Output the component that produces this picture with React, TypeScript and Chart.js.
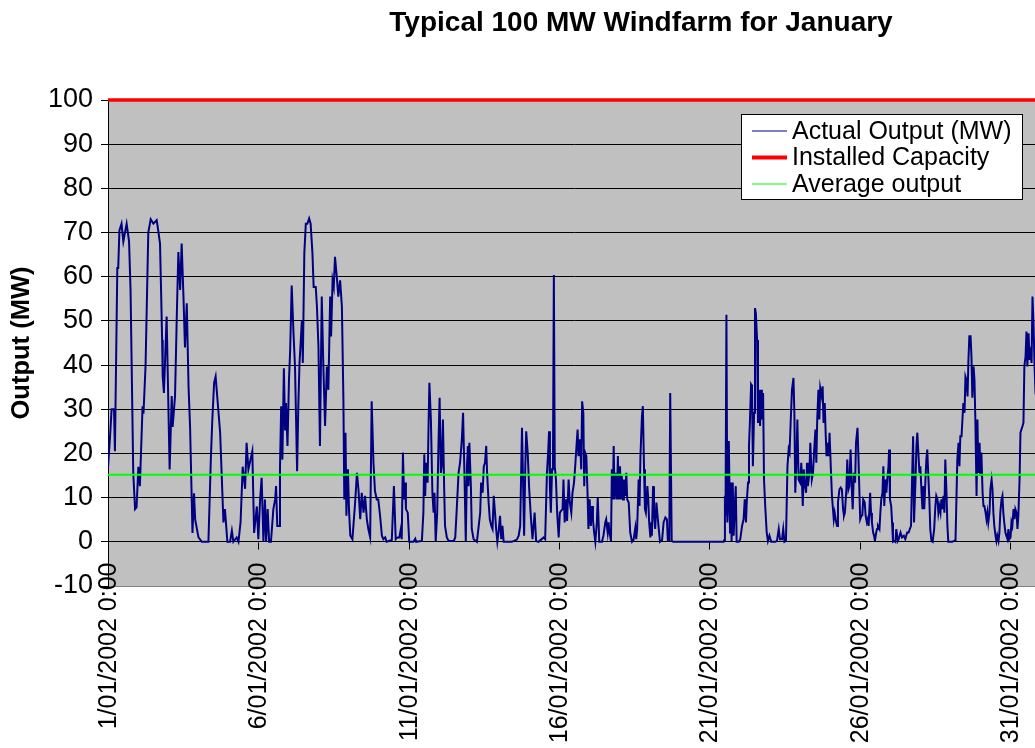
import React, { useEffect, useRef } from "react";
import { Chart, registerables } from "chart.js";

Chart.register(...registerables);

// ---- Data (x = days since 1/01/2002 0:00, y = MW) ----
const titleText = "Typical 100 MW Windfarm for January";
const yAxisTitle = "Output (MW)";
const tickDays = [0, 5, 10, 15, 20, 25, 30];
const tickLabels = [
  "1/01/2002 0:00",
  "6/01/2002 0:00",
  "11/01/2002 0:00",
  "16/01/2002 0:00",
  "21/01/2002 0:00",
  "26/01/2002 0:00",
  "31/01/2002 0:00",
];
const yMin = -10;
const yMax = 100;
const yStep = 10;
const periodDays = [0, 31];
const installedCapacityMW = 100;
const averageOutputMW = 15.2;
const seriesNames = ["Actual Output (MW)", "Installed Capacity", "Average output"];

const outputDays1to5: [number, number][] = [
  [0, 16.8], [0.07, 24], [0.12, 30], [0.2, 30], [0.23, 20.5], [0.31, 62], [0.34, 62], [0.38, 70.5], [0.45, 72], [0.51, 68],
  [0.62, 72], [0.7, 68], [0.75, 57], [0.84, 15.6], [0.9, 7.4], [0.95, 7.8], [1.01, 17], [1.06, 12.6], [1.15, 30.7], [1.18, 29],
  [1.25, 40], [1.34, 70], [1.42, 73], [1.51, 72], [1.62, 72.8], [1.67, 70.5], [1.73, 67.5], [1.77, 55.5], [1.8, 45.7], [1.82, 37.4],
  [1.86, 33.7], [1.95, 51], [2.05, 16.4], [2.12, 33], [2.15, 26], [2.23, 33], [2.29, 51.7], [2.34, 65.6], [2.4, 57], [2.45, 67.5],
  [2.51, 55.5], [2.56, 44], [2.62, 54], [2.68, 35], [2.73, 26], [2.81, 2], [2.86, 11], [2.9, 5], [3.01, 1], [3.12, 0],
  [3.34, 0], [3.42, 18.6], [3.47, 27.7], [3.53, 36], [3.58, 37.4], [3.73, 24.7], [3.84, 4.4], [3.89, 7.4], [3.97, 0], [4.06, 0],
  [4.12, 2.5], [4.17, 0], [4.28, 1], [4.34, 0], [4.41, 4.5], [4.48, 17], [4.56, 12], [4.61, 22.4], [4.67, 16.4], [4.8, 20.5],
  [4.86, 2], [4.95, 8], [5, 0.6],
];

const outputDays6to10: [number, number][] = [
  [5.06, 9.6], [5.11, 14.5], [5.17, 0], [5.22, 9.6], [5.26, 0], [5.31, 7.4], [5.36, 0], [5.42, 0], [5.5, 7.4], [5.56, 9.6],
  [5.59, 12.6], [5.63, 3.6], [5.69, 3.6], [5.72, 16.4], [5.76, 30.7], [5.8, 18.6], [5.85, 39.3], [5.89, 25.4], [5.92, 31.4], [5.97, 21.7],
  [6.02, 36.7], [6.06, 43.5], [6.11, 58], [6.17, 47.2], [6.22, 39.7], [6.29, 16], [6.33, 30.7], [6.37, 40.5], [6.45, 50.2], [6.48, 40.5],
  [6.53, 65.3], [6.58, 72], [6.63, 72], [6.69, 73.2], [6.74, 72], [6.8, 65.3], [6.84, 57.7], [6.91, 57.7], [6.95, 53.2], [7, 44.2],
  [7.05, 21.7], [7.11, 55.5], [7.16, 40.5], [7.22, 26.2], [7.28, 39.7], [7.33, 34.4], [7.39, 55.5], [7.42, 46.5], [7.47, 59.2], [7.51, 57.7],
  [7.55, 64.5], [7.61, 60], [7.66, 55.5], [7.72, 59.2], [7.78, 53.2], [7.83, 32.2], [7.86, 9.6], [7.9, 24.7], [7.93, 5.9], [7.98, 16.4],
  [8.02, 6.6], [8.06, 1.4], [8.13, 0.6], [8.22, 8.9], [8.28, 15.6], [8.33, 11.9], [8.39, 5.1], [8.44, 11.1], [8.5, 6.6], [8.55, 10.4],
  [8.61, 5.1], [8.66, 2.9], [8.72, 1], [8.77, 31.8], [8.83, 17.9], [8.88, 11.5], [8.94, 9.6], [8.99, 9.6], [9.05, 5.9], [9.11, 1.4],
  [9.16, 0.6], [9.22, 1], [9.27, 0], [9.44, 0.4], [9.51, 12.6], [9.57, 0.6], [9.63, 1], [9.69, 1], [9.74, 2.9], [9.77, 0.6],
  [9.81, 20.2], [9.85, 9.6], [9.88, 13.4], [9.91, 7.4], [9.97, 6.6], [10.02, 0],
];

const outputDays11to15: [number, number][] = [
  [10.16, 0], [10.22, 0.7], [10.25, 0], [10.44, 0.2], [10.49, 6.6], [10.52, 19.8], [10.55, 10.4], [10.58, 17.9], [10.63, 13.4], [10.66, 25.4],
  [10.69, 36], [10.74, 27.7], [10.79, 11.1], [10.83, 6.6], [10.86, 11.1], [10.9, 0], [10.95, 6.6], [10.99, 21.7], [11.03, 32.6], [11.07, 15.6],
  [11.1, 17.1], [11.14, 27.7], [11.18, 12.6], [11.21, 3.6], [11.27, 1], [11.33, 0.2], [11.5, 0.2], [11.55, 1], [11.6, 7.4], [11.66, 15.6],
  [11.71, 17.9], [11.77, 23.2], [11.81, 29.2], [11.86, 14.1], [11.9, 0], [11.94, 17.1], [11.97, 21.7], [11.99, 12.6], [12.02, 22.4], [12.07, 12.6],
  [12.1, 2.9], [12.16, 0.6], [12.27, 0], [12.38, 6.6], [12.41, 13.4], [12.46, 11.1], [12.5, 17.1], [12.54, 17.9], [12.58, 21.7], [12.61, 15.6],
  [12.66, 8.9], [12.7, 5.1], [12.75, 3.6], [12.79, 2.9], [12.83, 10.4], [12.88, 5.9], [12.91, 2.9], [12.95, 0], [12.99, 2.1], [13.04, 5.9],
  [13.08, 0.6], [13.12, 3.6], [13.16, 0], [13.43, 0], [13.6, 0.5], [13.66, 1.4], [13.71, 3.6], [13.77, 25.8], [13.8, 15.6], [13.84, 1.4],
  [13.88, 17.1], [13.91, 25], [13.96, 20.2], [14.01, 11.9], [14.07, 5.1], [14.12, 0.6], [14.19, 6.6], [14.24, 0.2], [14.32, 0], [14.49, 1],
  [14.54, 0.6], [14.6, 15.6], [14.64, 20.2], [14.67, 25], [14.7, 11.9], [14.73, 6.6], [14.77, 16.4], [14.8, 17.9], [14.83, 60.4], [14.86, 17.1],
  [14.9, 14.1], [14.94, 6.6], [14.99, 1], [15.03, 6.6], [15.07, 7], [15.12, 7.4],
];

const outputDays16to20: [number, number][] = [
  [15.15, 14.1], [15.19, 4.4], [15.23, 9.6], [15.27, 4.7], [15.32, 14.1], [15.36, 8.9], [15.41, 6.6], [15.45, 11.1], [15.5, 13.4], [15.54, 17.1],
  [15.59, 22.4], [15.62, 25.4], [15.65, 19.4], [15.7, 23.2], [15.74, 16.4], [15.77, 31.8], [15.81, 29.2], [15.84, 12.6], [15.87, 20.2], [15.91, 19.4],
  [15.95, 11.1], [15.98, 2.9], [16.02, 9.6], [16.06, 3.6], [16.1, 8.1], [16.13, 5.1], [16.17, 2.1], [16.21, 0], [16.26, 4.4], [16.29, 10],
  [16.34, 0], [16.43, 0], [16.48, 1.4], [16.54, 4.4], [16.57, 5.1], [16.62, 2.1], [16.65, 4.4], [16.68, 2.1], [16.73, 0.2], [16.76, 16.4],
  [16.79, 9.6], [16.82, 21.7], [16.85, 9.6], [16.89, 15.6], [16.93, 9.6], [16.96, 19.4], [16.99, 9.6], [17.03, 17.1], [17.06, 9.6], [17.09, 14.9],
  [17.13, 9.6], [17.16, 14.1], [17.2, 10.4], [17.24, 15.6], [17.27, 9.6], [17.32, 8.9], [17.37, 2.1], [17.43, 0], [17.48, 0.4], [17.54, 3.2],
  [17.57, 0.6], [17.6, 2.9], [17.65, 14.1], [17.68, 8.1], [17.71, 19.4], [17.76, 28.4], [17.79, 30.7], [17.83, 16.4], [17.86, 7.4], [17.89, 6.6],
  [17.94, 12.6], [17.97, 9.6], [18, 4.4], [18.04, 1], [18.07, 4.4], [18.09, 1.4], [18.13, 12.6], [18.16, 6.6], [18.2, 2.9], [18.24, 8.9],
  [18.27, 6.6], [18.31, 3.6], [18.36, 0], [18.43, 0.4], [18.48, 4.4], [18.54, 5.5], [18.59, 5.1], [18.62, 0.4], [18.67, 0.4], [18.7, 33.7],
  [18.75, 0.2], [18.8, 0], [20.48, 0], [20.5, 0.4], [20.52, 10.4], [20.54, 5.9], [20.57, 51.4], [20.6, 4.4], [20.63, 9.6], [20.65, 22.8],
  [20.69, 2.1], [20.72, 13.4], [20.74, 0], [20.78, 13.4], [20.81, 1.4], [20.84, 6.6], [20.88, 12.6], [20.91, 0], [20.98, 0],
];

const outputDays21to25: [number, number][] = [
  [21.03, 0.6], [21.09, 3.6], [21.14, 5.1], [21.18, 9.6], [21.22, 4.4], [21.25, 9.6], [21.29, 13.4], [21.32, 21.7], [21.35, 26.9], [21.39, 35.6],
  [21.42, 35.2], [21.45, 17.1], [21.49, 29.2], [21.52, 52.9], [21.55, 51.7], [21.59, 45.7], [21.62, 26.9], [21.65, 34.4], [21.69, 26.2], [21.72, 34.4],
  [21.75, 27.7], [21.79, 33.7], [21.82, 14.1], [21.86, 8.1], [21.91, 2.1], [21.95, 0.2], [22, 1.4], [22.06, 0], [22.2, 0], [22.25, 0.2],
  [22.31, 2.9], [22.35, 0.6], [22.42, 0.6], [22.46, 2.9], [22.5, 0], [22.55, 0.2], [22.6, 17.1], [22.64, 20.9], [22.67, 20.2], [22.71, 27.7],
  [22.75, 34.4], [22.8, 37.1], [22.83, 29.2], [22.86, 11.1], [22.9, 19.4], [22.93, 27.7], [22.97, 14.1], [23.02, 13.4], [23.06, 17.9], [23.11, 8.1],
  [23.14, 16.4], [23.17, 13.4], [23.22, 11.1], [23.25, 17.9], [23.28, 12.6], [23.33, 15.6], [23.36, 22.4], [23.41, 14.1], [23.45, 15.6], [23.49, 20.9],
  [23.53, 25.4], [23.56, 17.9], [23.59, 27.7], [23.63, 34.4], [23.66, 27.7], [23.69, 34.8], [23.74, 32.9], [23.77, 35.2], [23.8, 26.9], [23.84, 31.4],
  [23.87, 24.7], [23.9, 19.4], [23.94, 22.4], [23.97, 19.4], [24, 24.7], [24.04, 17.1], [24.08, 10.4], [24.14, 5.1], [24.17, 6.6], [24.22, 4.4],
  [24.25, 3.6], [24.28, 8.9], [24.33, 11.9], [24.37, 12.3], [24.41, 11.9], [24.45, 7.4], [24.48, 5.9], [24.51, 6.6], [24.56, 11.9], [24.59, 18.6],
  [24.63, 11.9], [24.66, 12.6], [24.7, 20.9], [24.74, 11.9], [24.77, 7.4], [24.81, 15.6], [24.85, 13.4], [24.88, 22.4], [24.93, 25.8], [24.96, 19.4],
  [24.99, 12], [25.02, 5.1],
];

const outputDays26to31: [number, number][] = [
  [25.06, 5.9], [25.09, 6], [25.12, 9.6], [25.17, 8.9], [25.2, 5.9], [25.24, 4.4], [25.27, 5.1], [25.3, 3.6], [25.35, 11.1], [25.38, 6.6],
  [25.41, 4.4], [25.45, 2.1], [25.48, 1.4], [25.51, 0.2], [25.55, 2.1], [25.58, 2.9], [25.61, 3.6], [25.66, 2.9], [25.69, 6.6], [25.72, 9.6],
  [25.76, 11.1], [25.79, 17.1], [25.82, 8.1], [25.86, 14.1], [25.89, 11.1], [25.92, 14.1], [25.96, 17.1], [25.98, 20.9], [26.01, 9.6], [26.05, 8.1],
  [26.08, 4.4], [26.11, 0], [26.16, 0.2], [26.19, 0], [26.22, 2.9], [26.27, 0.2], [26.3, 0.6], [26.36, 2.1], [26.41, 1], [26.47, 1.4],
  [26.52, 0.6], [26.58, 2.1], [26.63, 2.1], [26.67, 2.9], [26.71, 3.6], [26.75, 15.6], [26.78, 23.9], [26.81, 4.4], [26.86, 14.1], [26.89, 21.7],
  [26.92, 24.7], [26.96, 19.4], [26.99, 15.6], [27.02, 17.1], [27.06, 11.1], [27.09, 7.4], [27.12, 12.6], [27.15, 7.4], [27.19, 14.1], [27.22, 18.6],
  [27.25, 20.9], [27.29, 14.1], [27.32, 9.6], [27.35, 2.9], [27.39, 0.2], [27.43, 0], [27.48, 2.9], [27.52, 8.1], [27.55, 10.4], [27.59, 9.6],
  [27.62, 6.6], [27.65, 8.1], [27.69, 6.6], [27.72, 9.6], [27.75, 7.4], [27.79, 10.4], [27.82, 6.6], [27.85, 18.6], [27.89, 11.1], [27.92, 3.6],
  [27.95, 0], [28.08, 0], [28.19, 0.4], [28.22, 9.6], [28.25, 18.6], [28.29, 22.4], [28.32, 17.1], [28.35, 23.9], [28.39, 23.9], [28.42, 27.7],
  [28.45, 31.4], [28.49, 29.2], [28.52, 37.4], [28.55, 36.7], [28.59, 32.9], [28.62, 41.2], [28.65, 46.5], [28.69, 46.5], [28.72, 42], [28.75, 32.6],
  [28.79, 39.7], [28.82, 36.7], [28.85, 27.7], [28.89, 10.4], [28.92, 27.7], [28.95, 15.6], [28.99, 22.4], [29.02, 14.9], [29.05, 20.2], [29.09, 11.1],
  [29.12, 8.1], [29.15, 8.1], [29.19, 6.6], [29.22, 5.1], [29.25, 6.6], [29.28, 4.4], [29.32, 6.6], [29.35, 11.9], [29.39, 14.1], [29.42, 11.9],
  [29.45, 6.6], [29.48, 3.6], [29.52, 1.4], [29.55, 0.2], [29.58, 1.4], [29.62, 0.2], [29.65, 2.1], [29.68, 6.6], [29.72, 9.6], [29.75, 10.4],
  [29.78, 6.6], [29.81, 4.4], [29.85, 2.1], [29.88, 1.4], [29.92, 0.6], [29.95, 2.9], [29.98, 0.6], [30.02, 1], [30.05, 4.4], [30.08, 3.6],
  [30.12, 7.4], [30.15, 5.1], [30.18, 7.4], [30.22, 6.6], [30.25, 2.9], [30.28, 5.9], [30.32, 14.1], [30.35, 24.7], [30.38, 25.4], [30.42, 26.2],
  [30.45, 27], [30.48, 39.7], [30.52, 42], [30.55, 47.6], [30.58, 39.7], [30.62, 47.2], [30.65, 41.2], [30.68, 42.7], [30.72, 40.5], [30.75, 55.5],
  [30.78, 50.2], [30.82, 39.7], [30.85, 33.7], [30.9, 32], [30.98, 30],
];

const FONT = '"Liberation Sans", Arial, Helvetica, sans-serif';
const BLUE = "#000080";
const RED = "#FF0000";
const GREEN = "#00FF00";

export default function App() {
  const canvasRef = useRef<HTMLCanvasElement | null>(null);

  useEffect(() => {
    const canvas = canvasRef.current;
    if (!canvas) return;

    const actual = [
      ...outputDays1to5,
      ...outputDays6to10,
      ...outputDays11to15,
      ...outputDays16to20,
      ...outputDays21to25,
      ...outputDays26to31,
    ].map(([x, y]) => ({ x, y }));

    const plotBackground = {
      id: "plotBackground",
      beforeDraw(chart: any) {
        const { ctx, chartArea: a } = chart;
        ctx.save();
        ctx.fillStyle = "#C0C0C0";
        ctx.fillRect(a.left, a.top, a.right - a.left, a.bottom - a.top);
        ctx.restore();
      },
    };

    // Category-axis tick marks and labels sit on the 0 MW line, as in the original
    const zeroLineAxis = {
      id: "zeroLineAxis",
      afterDraw(chart: any) {
        const { ctx } = chart;
        const xs = chart.scales.x;
        const ys = chart.scales.y;
        const y0 = Math.round(ys.getPixelForValue(0)) + 0.5;
        ctx.save();
        ctx.strokeStyle = "#000";
        ctx.lineWidth = 1;
        ctx.beginPath();
        tickDays.forEach((d) => {
          const x = Math.round(xs.getPixelForValue(d)) + 0.5;
          ctx.moveTo(x, y0);
          ctx.lineTo(x, y0 + 7);
        });
        ctx.stroke();
        ctx.font = `25px ${FONT}`;
        ctx.fillStyle = "#000";
        ctx.textAlign = "right";
        ctx.textBaseline = "middle";
        tickDays.forEach((d, i) => {
          const x = xs.getPixelForValue(d);
          ctx.save();
          ctx.translate(x + 1, y0 + 20);
          ctx.rotate(-Math.PI / 2);
          ctx.fillText(tickLabels[i], 0, 0);
          ctx.restore();
        });
        ctx.restore();
      },
    };

    const boxLegend = {
      id: "boxLegend",
      afterDraw(chart: any) {
        const { ctx } = chart;
        const left = 741.5;
        const top = 114.5;
        const w = 281;
        const h = 85;
        ctx.save();
        ctx.fillStyle = "#FFFFFF";
        ctx.fillRect(left, top, w, h);
        ctx.strokeStyle = "#000";
        ctx.lineWidth = 1;
        ctx.strokeRect(left, top, w, h);
        ctx.font = `25px ${FONT}`;
        ctx.textBaseline = "middle";
        ctx.textAlign = "left";
        chart.data.datasets.forEach((ds: any, i: number) => {
          const y = 131 + i * 26.5;
          ctx.beginPath();
          ctx.strokeStyle = ds.borderColor;
          ctx.lineWidth = i === 1 ? 4 : 1.2;
          ctx.moveTo(752, y);
          ctx.lineTo(787, y);
          ctx.stroke();
          ctx.fillStyle = "#000";
          ctx.fillText(ds.label, 792, y + 1);
        });
        ctx.restore();
      },
    };

    const chart = new Chart(canvas, {
      type: "line",
      data: {
        datasets: [
          {
            label: seriesNames[0],
            data: actual,
            borderColor: BLUE,
            borderWidth: 2,
            pointRadius: 0,
            tension: 0,
            order: 2,
          },
          {
            label: seriesNames[1],
            data: periodDays.map((d) => ({ x: d, y: installedCapacityMW })),
            borderColor: RED,
            borderWidth: 3.5,
            pointRadius: 0,
            clip: false,
            order: 1,
          },
          {
            label: seriesNames[2],
            data: periodDays.map((d) => ({ x: d, y: averageOutputMW })),
            borderColor: GREEN,
            borderWidth: 2,
            pointRadius: 0,
            order: 0,
          },
        ],
      },
      options: {
        responsive: false,
        animation: false,
        devicePixelRatio: 1,
        events: [],
        layout: { padding: 0 },
        plugins: {
          legend: { display: false },
          tooltip: { enabled: false },
          title: {
            display: true,
            text: titleText,
            color: "#000",
            font: { family: FONT, size: 28, weight: "bold" },
            padding: { top: 6.5, bottom: 59.9 },
          },
        },
        scales: {
          x: {
            type: "linear",
            min: periodDays[0],
            max: periodDays[1],
            afterBuildTicks: (scale: any) => {
              scale.ticks = tickDays.map((v) => ({ value: v }));
            },
            afterFit: (scale: any) => {
              scale.height = 162;
            },
            grid: { display: false },
            border: { display: true, color: "#808080", width: 1 },
            ticks: { display: false },
          },
          y: {
            min: yMin,
            max: yMax,
            afterFit: (scale: any) => {
              scale.width = 108;
            },
            grid: {
              color: "#000",
              lineWidth: 1,
              tickLength: 7,
              drawTicks: true,
            },
            border: { display: true, color: "#000", width: 1 },
            ticks: {
              stepSize: yStep,
              padding: 8,
              color: "#000",
              font: { family: FONT, size: 27 },
            },
            title: {
              display: true,
              text: yAxisTitle,
              color: "#000",
              font: { family: FONT, size: 25.5, weight: "bold" },
              padding: { top: 7, bottom: 0 },
            },
          },
          // empty spacer on the right: the plot runs on past the picture's edge
          spacer: {
            type: "linear",
            position: "right",
            display: true,
            afterFit: (scale: any) => {
              scale.width = 242;
            },
            grid: { display: false },
            border: { display: false },
            ticks: { display: false },
          },
        },
      },
      plugins: [plotBackground, zeroLineAxis, boxLegend],
    });

    return () => chart.destroy();
  }, []);

  return (
    <div
      style={{
        position: "absolute",
        left: 0,
        top: 0,
        width: 1035,
        height: 748,
        overflow: "hidden",
        background: "#FFFFFF",
      }}
    >
      <canvas ref={canvasRef} width={1282} height={748} style={{ display: "block" }} />
    </div>
  );
}
